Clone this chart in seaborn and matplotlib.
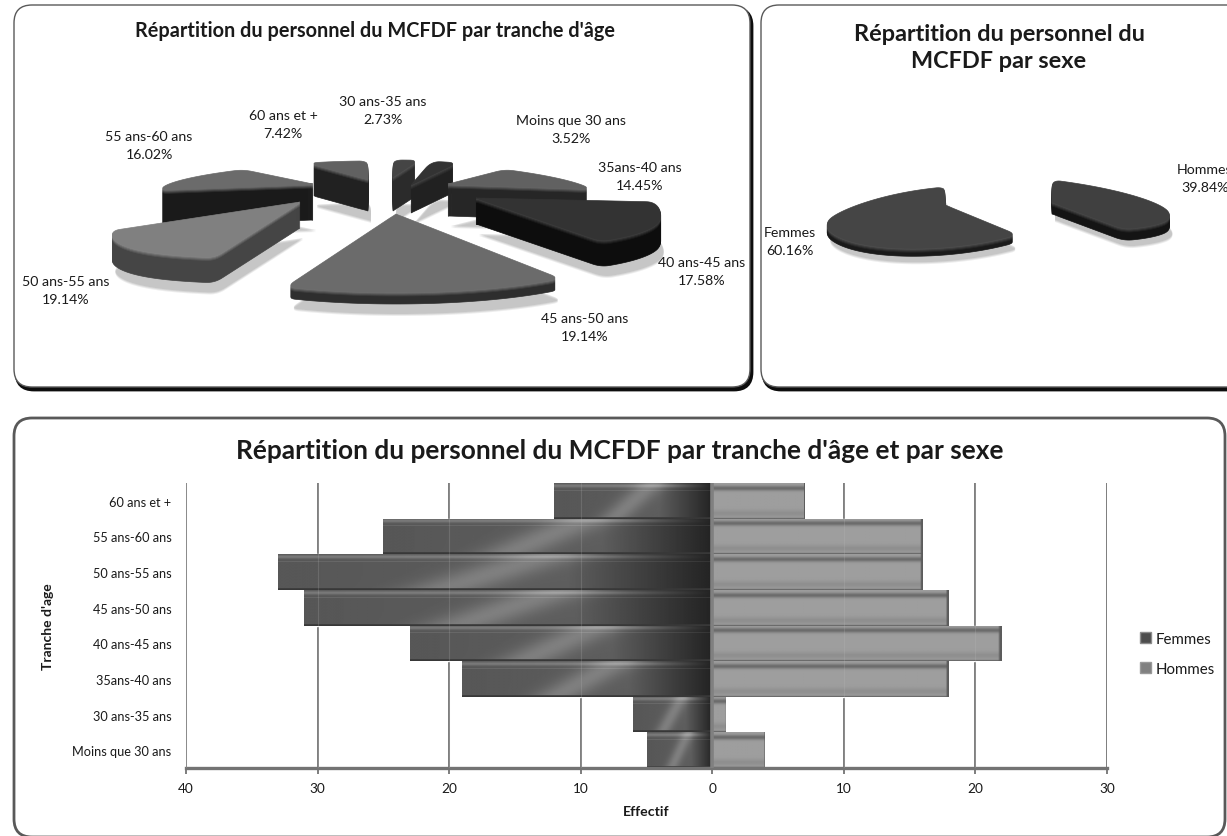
import numpy as np
import pandas as pd
import matplotlib.pyplot as plt
from matplotlib.patches import FancyBboxPatch, Patch, Polygon
import seaborn as sns

W, H = 1227, 837

# -----------------------------
# Data
# -----------------------------
ages = ['60 ans et +', '55 ans-60 ans', '50 ans-55 ans', '45 ans-50 ans',
        '40 ans-45 ans', '35ans-40 ans', '30 ans-35 ans', 'Moins que 30 ans']
femmes = [12, 25, 33, 31, 23, 19, 6, 5]
hommes = [7, 16, 16, 18, 22, 18, 1, 4]
x_ticks = [-40, -30, -20, -10, 0, 10, 20, 30]
x_tick_labels = ['40', '30', '20', '10', '0', '10', '20', '30']

age_cats = ['30 ans-35 ans', 'Moins que 30 ans', '35ans-40 ans', '40 ans-45 ans',
            '45 ans-50 ans', '50 ans-55 ans', '55 ans-60 ans', '60 ans et +']
age_pct = [2.73, 3.52, 14.45, 17.58, 19.14, 19.14, 16.02, 7.42]
sex_cats = ['Hommes', 'Femmes']
sex_pct = [39.84, 60.16]

sns.set_theme(style='white')
plt.rcParams['font.family'] = ['Lato', 'DejaVu Sans']

fig = plt.figure(figsize=(W / 100, H / 100), dpi=100)
bg = fig.add_axes([0, 0, 1, 1], zorder=0)


def unit_slices(values):
    # slice outlines from the pie layout, radius 1 around 0,0
    wedges, _ = bg.pie(values, startangle=90, counterclock=False)
    polys = []
    for w in wedges:
        t = np.radians(np.linspace(w.theta1, w.theta2, 120))
        arc = np.column_stack([np.cos(t), np.sin(t)])
        polys.append(np.vstack([[0, 0], arc]))
        w.remove()
    return polys


def project(poly, s):
    x, y = poly[:, 0], poly[:, 1]
    # fake perspective: front of the slice bulges, back is flattened
    drop = np.where(y > 0, -s['up'] * y, s['down'] * np.abs(y) ** 1.3)
    px = s['ax'] + s['rx'] * x
    py = s['ay'] + drop + s['shear'] * s['rx'] * x + s['bend'] * x ** 2
    return np.column_stack([px, py])


def round_corners(pts, win=9):
    # resample the outline then smooth it, the apex (first point) stays sharp
    closed = np.vstack([pts, pts[0]])
    seg = np.hypot(*np.diff(closed, axis=0).T)
    dist = np.concatenate([[0], np.cumsum(seg)])
    n = int(dist[-1] / 2)
    s = np.linspace(0, dist[-1], n, endpoint=False)
    res = np.column_stack([np.interp(s, dist, closed[:, 0]), np.interp(s, dist, closed[:, 1])])
    kernel = np.ones(win) / win
    smooth = np.column_stack([np.convolve(np.r_[res[-win:, i], res[:, i], res[:win, i]], kernel, 'same')[win:-win]
                              for i in range(2)])
    keep = np.clip(np.hypot(*(res - pts[0]).T) / 25, 0, 1)[:, None]
    return res * (1 - keep) + smooth * keep


def draw_slices(values, styles, order, shadow=10):
    polys = unit_slices(values)
    projected = [round_corners(project(p, s)) for p, s in zip(polys, styles)]
    # shadows first
    for pts, s in zip(projected, styles):
        for grow, alpha in [(0, .3), (2, .25), (4, .18)]:
            sh = pts + [3, s['depth'] + shadow + grow * .5]
            bg.add_patch(Polygon(sh, fc='0.62', ec='none', alpha=alpha, zorder=1))
    z = 2
    for i in order:
        pts, s = projected[i], styles[i]
        for k in range(int(s['depth']), 0, -1):
            # rim gets lighter towards the top face
            t = max(0, 1 - k / 5)
            col = str(s['side'] + (s['top'] + .08 - s['side']) * t)
            bg.add_patch(Polygon(pts + [0, k], fc=col, ec=col, lw=.5, zorder=z))
            z += .001
        bg.add_patch(Polygon(pts, fc=str(s['top']), ec=str(s['top']), lw=.5, zorder=z))
        z += 1


def slice_style(ax, ay, rx, up, down, depth, top, side, shear=0, bend=0):
    return dict(ax=ax, ay=ay, rx=rx, up=up, down=down, depth=depth,
                top=top, side=side, shear=shear, bend=bend)


# -----------------------------
# Panels
# -----------------------------
def panel(x0, y0, x1, y1, lw, ec, shadow=True):
    box = 'round,pad=0,rounding_size=18'
    if shadow:
        bg.add_patch(FancyBboxPatch((x0 + 2, y0 + 3), x1 - x0, y1 - y0, boxstyle=box,
                                    fc='0.05', ec='0.05', lw=2, zorder=.2))
    bg.add_patch(FancyBboxPatch((x0, y0), x1 - x0, y1 - y0, boxstyle=box,
                                fc='white', ec=ec, lw=lw, zorder=.3))


panel(14, 6, 750, 388, 1, '0.35')
panel(761, 6, 1245, 388, 1, '0.35')
panel(14, 419, 1225, 838, 2, '0.35', shadow=False)

# -----------------------------
# Pies
# -----------------------------
age_styles = [
    slice_style(393, 178, 150, 17, 30, 34, .27, .17),
    slice_style(411, 186, 120, 24, 30, 28, .2, .13),
    slice_style(448, 185, 148, 20, 30, 32, .38, .15, shear=.07),
    slice_style(476, 199, 186, 55, 50, 26, .2, .05, bend=20),
    slice_style(396, 215, 243, 40, 78, 12, .42, .18, bend=25),
    slice_style(300, 203, 190, 30, 56, 26, .5, .27, bend=32),
    slice_style(313, 185, 155, 20, 30, 36, .42, .1, shear=-.05),
    slice_style(368, 180, 130, 18, 30, 32, .38, .13),
]
draw_slices(age_pct, age_styles, [7, 0, 1, 2, 6, 3, 5, 4])

sex_styles = [
    slice_style(1052, 203, 120, 22, 24, 12, .25, .08, shear=.12),
    slice_style(945, 206, 120, 18, 42, 8, .27, .1, shear=-.08, bend=10),
]
draw_slices(sex_pct, sex_styles, [0, 1], shadow=6)

age_label_pos = [(383, 111), (571, 130), (640, 177), (702, 272),
                 (585, 328), (66, 291), (149, 146), (283, 125)]
for cat, pct, (x, y) in zip(age_cats, age_pct, age_label_pos):
    bg.text(x, y, f'{cat}\n{pct:.2f}%', ha='center', va='center', fontsize=10.2,
            color='0.1', linespacing=1.55, zorder=20)

sex_label_pos = [(1205, 179), (790, 242)]
for cat, pct, (x, y) in zip(sex_cats, sex_pct, sex_label_pos):
    bg.text(x, y, f'{cat}\n{pct:.2f}%', ha='center', va='center', fontsize=10.2,
            color='0.1', linespacing=1.55, zorder=20)

bg.text(375, 31, "Répartition du personnel du MCFDF par tranche d'âge", ha='center', va='center',
        fontsize=14.3, fontweight='bold', color='0.1')
bg.text(999, 48, 'Répartition du personnel du\nMCFDF par sexe', ha='center', va='center',
        fontsize=16.9, fontweight='bold', color='0.1', linespacing=1.4)
bg.text(620, 451, "Répartition du personnel du MCFDF par tranche d'âge et par sexe", ha='center',
        va='center', fontsize=18.9, fontweight='bold', color='0.1')

bg.set_aspect('auto')
bg.set_xlim(0, W)
bg.set_ylim(H, 0)
bg.axis('off')

# -----------------------------
# Population pyramid
# -----------------------------
df = pd.DataFrame({
    'Tranche': ages * 2,
    'Effectif': [-v for v in femmes] + hommes,
    'Sexe': ['Femmes'] * len(ages) + ['Hommes'] * len(ages),
})

ax = fig.add_axes([186 / W, 1 - 769 / H, (1107 - 186) / W, (769 - 484) / H], zorder=1)
ax.patch.set_alpha(0)
sns.barplot(data=df, y='Tranche', x='Effectif', hue='Sexe', order=ages, dodge=False, width=1,
            palette={'Femmes': '0.3', 'Hommes': '0.55'}, legend=False, ax=ax, zorder=2)


def female_shade(n=60, m=300):
    v, u = np.mgrid[0:1:n * 1j, 0:1:m * 1j]   # u=0 at the axis, u=1 outer end
    a = .1 + .24 * np.minimum(u * 3, 1) + .04 * (1 - u)
    a = a + .14 * np.exp(-((u - .5 - .25 * (v - .5)) / .1) ** 2)
    a = a + .14 * np.exp(-((v - .07) / .05) ** 2) * np.minimum(u * 4, 1)
    a[np.abs(v - .2) < .012] += .1
    a[v > .96] = .22
    return a


def male_shade(n=60, m=100):
    v, u = np.mgrid[0:1:n * 1j, 0:1:m * 1j]
    a = .62 - .2 * np.exp(-((v - .14) / .07) ** 2) - .06 * np.exp(-((v - .85) / .1) ** 2)
    a[v > .97] = .42
    a[:, -1:] = .36
    return a


# gradient fill clipped to the bars seaborn placed
for cont, shade, flip in [(ax.containers[0], female_shade(), True),
                          (ax.containers[1], male_shade(), False)]:
    for bar in cont:
        x0, y0 = bar.get_x(), bar.get_y()
        x1, y1 = x0 + bar.get_width(), y0 + bar.get_height()
        left, right = min(x0, x1), max(x0, x1)
        img = shade[:, ::-1] if flip else shade
        im = ax.imshow(img, extent=(left, right, y1, y0), aspect='auto', cmap='gray',
                       vmin=0, vmax=1, zorder=2.5)
        im.set_clip_path(bar)

ax.set_xlim(-40, 30)
ax.set_ylim(7.5, -.5)
ax.set_xticks(x_ticks)
ax.set_xticklabels(x_tick_labels, fontsize=9.8, color='0.1')
ax.tick_params(axis='x', length=4, color='0.45', width=1.3, pad=6, bottom=True)
ax.tick_params(axis='y', length=0, pad=10.5, labelsize=9.2, labelcolor='0.1')
ax.grid(axis='x', color='0.45', lw=1.3, zorder=0)
ax.set_axisbelow(True)
for v in x_ticks:
    ax.axvline(v, color='0.75', lw=.8, alpha=.2, zorder=3)
ax.axvline(0, color='0.5', lw=2.6, zorder=4)
sns.despine(ax=ax, left=True, top=True, right=True)
ax.spines['bottom'].set_color('0.45')
ax.spines['bottom'].set_linewidth(2.4)
ax.set_xlabel('Effectif', fontsize=10.2, fontweight='bold', color='0.1', labelpad=8)
ax.set_ylabel("Tranche d'age", fontsize=10, fontweight='bold', color='0.1', labelpad=13)

ax.legend(handles=[Patch(fc='0.3', ec='0.55', label='Femmes'), Patch(fc='0.5', ec='0.6', label='Hommes')],
          loc='center left', bbox_to_anchor=(954 / 921, 1 - (655 - 484) / 285), frameon=False,
          fontsize=10.8, handlelength=.75, handleheight=.75, handletextpad=.3, labelspacing=1.05,
          labelcolor='0.1', borderpad=0, borderaxespad=0)

plt.savefig('out.png', dpi=100)
plt.close()
